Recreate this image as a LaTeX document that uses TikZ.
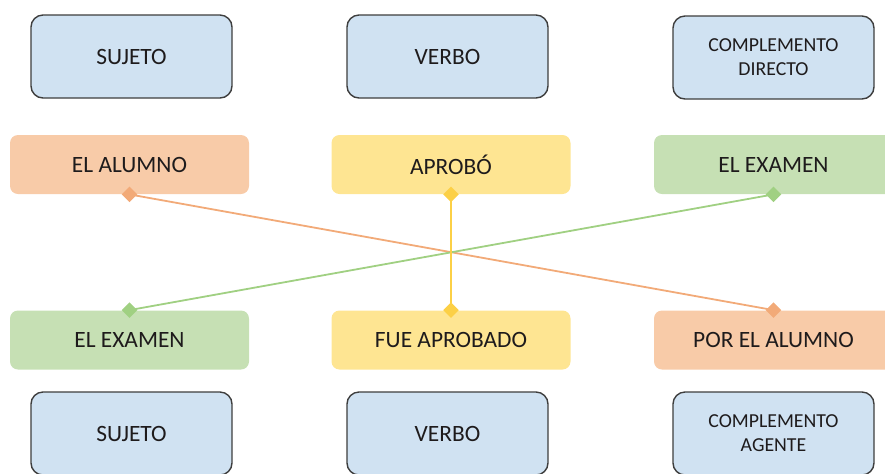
\documentclass[tikz,border=0pt]{standalone}
\usepackage{fontspec}
\setmainfont{Carlito}
\usepackage{xcolor}
\usepackage{tikz}
\usetikzlibrary{positioning,shapes.geometric}
\definecolor{ink}{RGB}{30,27,28}
\definecolor{rolefill}{RGB}{208,226,242}
\definecolor{roleborder}{RGB}{62,62,62}
\definecolor{agentfill}{RGB}{248,203,168}
\definecolor{agentline}{RGB}{242,170,120}
\definecolor{verbfill}{RGB}{254,229,146}
\definecolor{verbline}{RGB}{252,208,70}
\definecolor{objfill}{RGB}{198,224,180}
\definecolor{objline}{RGB}{160,208,130}

\begin{document}
\begin{tikzpicture}[
    x=0.5pt, y=-0.5pt,
    role/.style={draw=roleborder, line width=0.7pt, rounded corners=6pt, fill=rolefill,
                minimum width=100.5pt, minimum height=41.5pt, align=center,
                font=\fontsize{11.7}{14}\selectfont\color{ink}},
    roletwo/.style={role, font=\fontsize{9.9}{12}\selectfont\color{ink}},
    word/.style={rounded corners=4pt, minimum width=119.5pt, minimum height=29.5pt,
                align=center, font=\fontsize{11.7}{14}\selectfont\color{ink}},
    tip/.style={diamond, inner sep=0pt, minimum size=8pt},
    link/.style={line width=0.9pt}
]
\useasboundingbox (0,0) rectangle (885,473);
% categories, active sentence
\node[role] (subjA) at (131.5,56.5) {SUJETO};
\node[role] (verbA) at (447.5,56.5) {VERBO};
\node[roletwo] (cdA) at (773.5,57.5) {COMPLEMENTO\\DIRECTO};
% active sentence
\node[word, fill=agentfill] (alumnoA) at (129.5,164.5) {EL ALUMNO};
\node[word, fill=verbfill] (aprobo) at (451,164.5) {APROBÓ};
\node[word, fill=objfill] (examenA) at (773.5,164.5) {EL EXAMEN};
% passive sentence
\node[word, fill=objfill] (examenP) at (129.5,340) {EL EXAMEN};
\node[word, fill=verbfill] (aprobado) at (451,340) {FUE APROBADO};
\node[word, fill=agentfill] (alumnoP) at (773.5,340) {POR EL ALUMNO};
% categories, passive sentence
\node[role] (subjP) at (131.5,433.5) {SUJETO};
\node[role] (verbP) at (447.5,433.5) {VERBO};
\node[roletwo] (caP) at (773.5,433.5) {COMPLEMENTO\\AGENTE};

\node[tip, fill=agentline] (d1) at (alumnoA.south) {};
\node[tip, fill=verbline] (d2) at (aprobo.south) {};
\node[tip, fill=objline] (d3) at (examenA.south) {};
\node[tip, fill=objline] (d4) at (examenP.north) {};
\node[tip, fill=verbline] (d5) at (aprobado.north) {};
\node[tip, fill=agentline] (d6) at (alumnoP.north) {};

\draw[link, agentline] (d1.center) -- (d6.center);
\draw[link, objline] (d3.center) -- (d4.center);
\draw[link, verbline, line width=1.1pt] (d2.center) -- (d5.center);
\end{tikzpicture}
\end{document}
